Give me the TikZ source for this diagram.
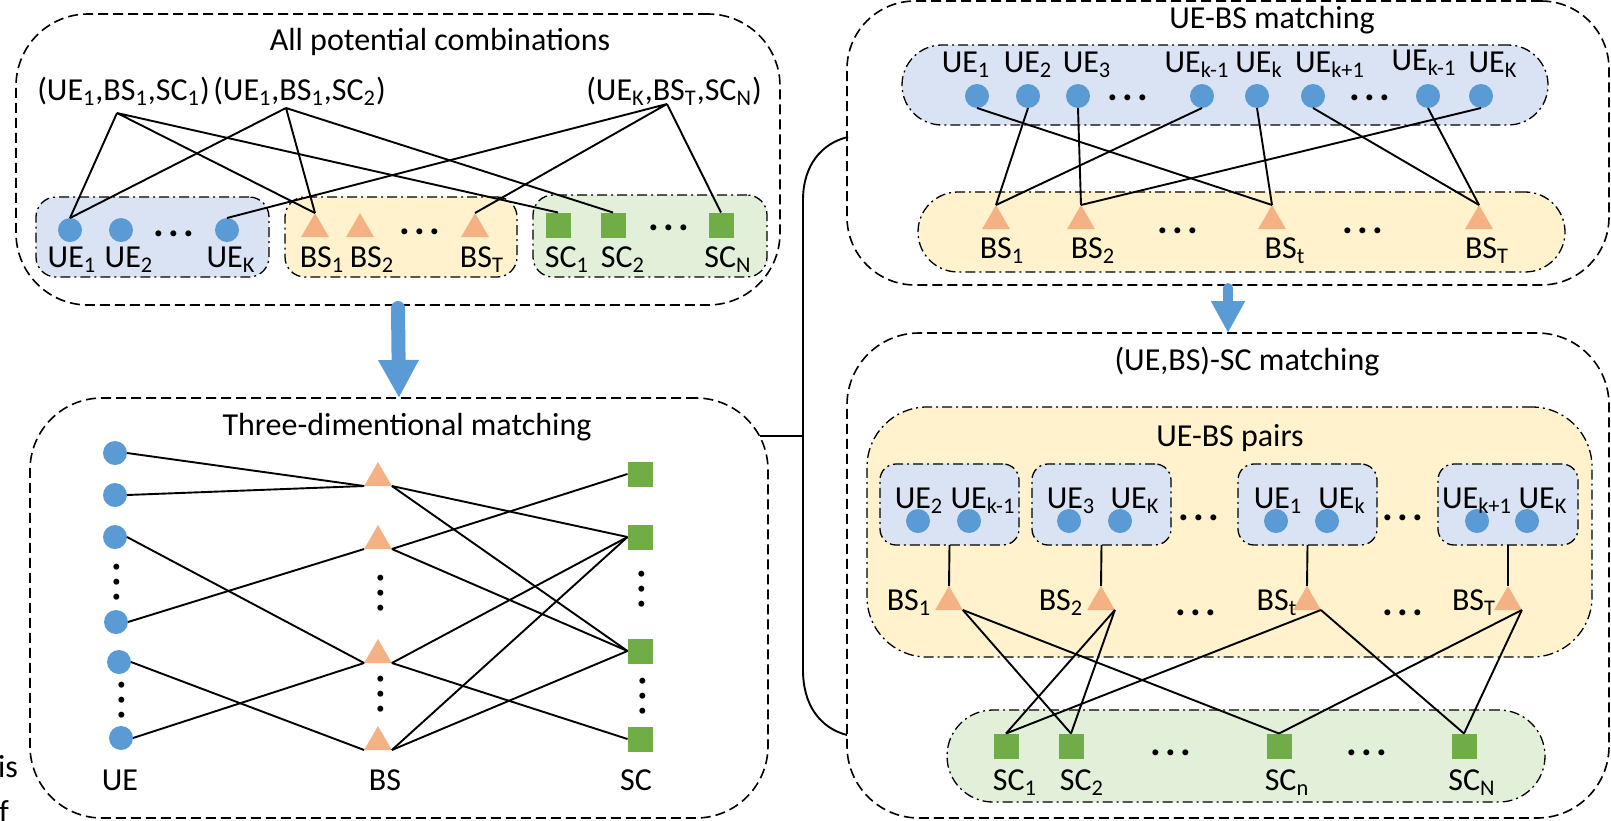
\documentclass[tikz,border=0pt]{standalone}
\usepackage{fontspec}
\setmainfont{Carlito}
\usetikzlibrary{shapes.geometric,arrows.meta}
\definecolor{ueblue}{HTML}{5B9BD5}
\definecolor{bsorange}{HTML}{F4B183}
\definecolor{scgreen}{HTML}{70AD47}
\definecolor{grpblue}{HTML}{DAE3F3}
\definecolor{grpyellow}{HTML}{FFF2CC}
\definecolor{grpgreen}{HTML}{E2F0D9}
\newcommand{\sbx}[1]{\textsubscript{#1}}
\newcommand{\dotsthree}{.\kern2.2pt.\kern2.2pt.}
\tikzset{
 every node/.style={font=\fontsize{16}{19}\selectfont, outer sep=0pt},
 uenode/.style={circle, fill=ueblue, minimum size=12pt, inner sep=0pt},
 bsnode/.style={regular polygon, regular polygon sides=3, fill=bsorange, minimum size=16pt, inner sep=0pt},
 scnode/.style={rectangle, fill=scgreen, minimum size=12.5pt, inner sep=0pt},
 lbl/.style={anchor=base, inner sep=0pt},
 bigbox/.style={draw, line width=0.8pt, dash pattern=on 5pt off 2.5pt, rounded corners=36pt, inner sep=0pt},
 grpbox/.style={draw, line width=0.65pt, dash pattern=on 5pt off 2pt on 1pt off 2pt, inner sep=0pt},
 conn/.style={line width=0.95pt},
 hdots/.style={inner sep=0pt, font=\fontsize{20}{20}\selectfont\bfseries},
 vdots/.style={hdots, rotate=90},
 bigarrow/.style={draw=ueblue, line width=7pt, line cap=round, -{Triangle[width=19pt,length=19pt]}},
 smallarrow/.style={draw=ueblue, line width=5pt, line cap=round, -{Triangle[width=16pt,length=16pt]}},
}
\begin{document}
\begin{tikzpicture}[x=0.5pt,y=-0.5pt]
\useasboundingbox (0,0) rectangle (1611,820);
\clip (0,0) rectangle (1611,820);

% ================= Box 1: All potential combinations =================
\node[bigbox, minimum width=382pt, minimum height=145.5pt] (box1) at (398,159.5) {};
\node[lbl] (title1) at (440,50) {All potential combinations};
\node[grpbox, fill=grpblue, rounded corners=10pt, minimum width=116.5pt, minimum height=40pt] (g1ue) at (152.5,237) {};
\node[grpbox, fill=grpyellow, rounded corners=10pt, minimum width=116pt, minimum height=40pt] (g1bs) at (401,237) {};
\node[grpbox, fill=grpgreen, rounded corners=10pt, minimum width=117pt, minimum height=41pt] (g1sc) at (650,236) {};

\node[lbl] (tri1) at (123.5,100) {(UE\sbx{1},BS\sbx{1},SC\sbx{1})};
\node[lbl] (tri2) at (299.5,100) {(UE\sbx{1},BS\sbx{1},SC\sbx{2})};
\node[lbl] (tri3) at (674,100) {(UE\sbx{K},BS\sbx{T},SC\sbx{N})};
\coordinate (p1) at (117,113);
\coordinate (p2) at (286,108);
\coordinate (p3) at (667,104);

\node[uenode] (au1) at (70,230) {};
\node[uenode] (au2) at (121,230) {};
\node[uenode] (auK) at (227,230) {};
\node[hdots] (aud) at (174,234) {\dotsthree};
\node[bsnode] (ab1) at (315,229) {};
\node[bsnode] (ab2) at (360,229) {};
\node[bsnode] (abT) at (475,229) {};
\node[hdots] (abd) at (420,232) {\dotsthree};
\node[scnode] (as1) at (558,225) {};
\node[scnode] (as2) at (613,225) {};
\node[scnode] (asN) at (721,225) {};
\node[hdots] (asd) at (669,228) {\dotsthree};

\node[lbl] at (72,267) {UE\sbx{1}};
\node[lbl] at (129,267) {UE\sbx{2}};
\node[lbl] at (231,267) {UE\sbx{K}};
\node[lbl] at (322,267) {BS\sbx{1}};
\node[lbl] at (372,267) {BS\sbx{2}};
\node[lbl] at (482,267) {BS\sbx{T}};
\node[lbl] at (567,267) {SC\sbx{1}};
\node[lbl] at (623,267) {SC\sbx{2}};
\node[lbl] at (728,267) {SC\sbx{N}};

\draw[conn] (p1) -- (au1.north) (p1) -- (ab1.corner 1) (p1) -- (as1.north);
\draw[conn] (p2) -- (au1.north) (p2) -- (ab1.corner 1) (p2) -- (as2.north);
\draw[conn] (p3) -- (auK.north) (p3) -- (abT.corner 1) (p3) -- (asN.north);

% ================= Box 2: Three-dimentional matching =================
\node[bigbox, minimum width=369pt, minimum height=210pt] (box2) at (399,608) {};
\node[lbl] (title2) at (407,435) {Three-dimentional matching};

\node[uenode] (bu1) at (115,453) {};
\node[uenode] (bu2) at (115,495) {};
\node[uenode] (bu3) at (115,537) {};
\node[uenode] (bu4) at (116,622) {};
\node[uenode] (bu5) at (119,662) {};
\node[uenode] (bu6) at (121,738) {};
\node[vdots] at (117,582) {\dotsthree};
\node[vdots] at (122,700) {\dotsthree};

\node[bsnode] (bb1) at (378,478) {};
\node[bsnode] (bb2) at (378,541) {};
\node[bsnode] (bb3) at (378,655) {};
\node[bsnode] (bb4) at (378,742) {};
\node[vdots] at (381,593) {\dotsthree};
\node[vdots] at (381,694) {\dotsthree};

\node[scnode] (bs1) at (640,474) {};
\node[scnode] (bs2) at (640,537) {};
\node[scnode] (bs3) at (640,651) {};
\node[scnode] (bs4) at (640,739) {};
\node[vdots] at (642,589) {\dotsthree};
\node[vdots] at (643,696) {\dotsthree};

\node[lbl] at (120,790) {UE};
\node[lbl] at (385,790) {BS};
\node[lbl] at (636,790) {SC};

\draw[conn] (bu1.east) -- (bb1.corner 2);
\draw[conn] (bu2.east) -- (bb1.corner 2);
\draw[conn] (bu3.east) -- (bb3.corner 2);
\draw[conn] (bu4.east) -- (bb2.corner 2);
\draw[conn] (bu5.east) -- (bb4.corner 2);
\draw[conn] (bu6.east) -- (bb3.corner 2);
\draw[conn] (bb1.corner 3) -- (bs2.west);
\draw[conn] (bb1.corner 3) -- (bs3.west);
\draw[conn] (bb2.corner 3) -- (bs1.west);
\draw[conn] (bb2.corner 3) -- (bs3.west);
\draw[conn] (bb3.corner 3) -- (bs2.west);
\draw[conn] (bb3.corner 3) -- (bs4.west);
\draw[conn] (bb4.corner 3) -- (bs2.west);
\draw[conn] (bb4.corner 3) -- (bs3.west);

% ================= Box 3: UE-BS matching =================
\node[bigbox, rounded corners=34pt, minimum width=381pt, minimum height=142pt] (box3) at (1228,143) {};
\node[lbl] (title3) at (1272,28) {UE-BS matching};
\node[grpbox, fill=grpblue, rounded corners=20pt, minimum width=323pt, minimum height=40pt] (g3ue) at (1225,85) {};
\node[grpbox, fill=grpyellow, rounded corners=20pt, minimum width=323.5pt, minimum height=40pt] (g3bs) at (1241.5,232) {};

\node[uenode] (cu1) at (977,96) {};
\node[uenode] (cu2) at (1028,96) {};
\node[uenode] (cu3) at (1078,96) {};
\node[uenode] (cu4) at (1202,96) {};
\node[uenode] (cu5) at (1257,96) {};
\node[uenode] (cu6) at (1313,96) {};
\node[uenode] (cu7) at (1428,96) {};
\node[uenode] (cu8) at (1481,96) {};
\node[hdots] at (1128,98) {\dotsthree};
\node[hdots] at (1370,98) {\dotsthree};
\node[lbl] at (966,72) {UE\sbx{1}};
\node[lbl] at (1028,72) {UE\sbx{2}};
\node[lbl] at (1087,72) {UE\sbx{3}};
\node[lbl] at (1197,72) {UE\sbx{k-1}};
\node[lbl] at (1259,72) {UE\sbx{k}};
\node[lbl] at (1330,72) {UE\sbx{k+1}};
\node[lbl] at (1424,70) {UE\sbx{k-1}};
\node[lbl] at (1493,72) {UE\sbx{K}};

\node[bsnode] (cb1) at (996,221) {};
\node[bsnode] (cb2) at (1081,221) {};
\node[bsnode] (cbt) at (1272,221) {};
\node[bsnode] (cbT) at (1479,221) {};
\node[hdots] at (1178,231) {\dotsthree};
\node[hdots] at (1363,231) {\dotsthree};
\node[lbl] at (1002,258) {BS\sbx{1}};
\node[lbl] at (1093,258) {BS\sbx{2}};
\node[lbl] at (1285,258) {BS\sbx{t}};
\node[lbl] at (1487,258) {BS\sbx{T}};

\draw[conn] (cu1.south) -- (cbt.corner 1);
\draw[conn] (cu2.south) -- (cb1.corner 1);
\draw[conn] (cu3.south) -- (cb2.corner 1);
\draw[conn] (cu4.south) -- (cb1.corner 1);
\draw[conn] (cu5.south) -- (cbt.corner 1);
\draw[conn] (cu6.south) -- (cbT.corner 1);
\draw[conn] (cu7.south) -- (cbT.corner 1);
\draw[conn] (cu8.south) -- (cb2.corner 1);

% ================= Box 4: (UE,BS)-SC matching =================
\node[bigbox, minimum width=381pt, minimum height=242.5pt] (box4) at (1228,575.5) {};
\node[lbl] (title4) at (1247,370) {(UE,BS)-SC matching};
\node[grpbox, fill=grpyellow, rounded corners=30pt, minimum width=362.5pt, minimum height=125pt] (pairs) at (1229.5,532) {};
\node[lbl] (title5) at (1230,446) {UE-BS pairs};

\node[grpbox, fill=grpblue, rounded corners=8pt, minimum width=69.5pt, minimum height=40.5pt] (pb1) at (949.5,504.5) {};
\node[grpbox, fill=grpblue, rounded corners=8pt, minimum width=69.5pt, minimum height=40.5pt] (pb2) at (1101.5,504.5) {};
\node[grpbox, fill=grpblue, rounded corners=8pt, minimum width=69.5pt, minimum height=40.5pt] (pb3) at (1307.5,504.5) {};
\node[grpbox, fill=grpblue, rounded corners=8pt, minimum width=70pt, minimum height=40.5pt] (pb4) at (1508,504.5) {};

\node[uenode] (du1) at (918,521) {};
\node[uenode] (du2) at (969,521) {};
\node[uenode] (du3) at (1069,521) {};
\node[uenode] (du4) at (1120,521) {};
\node[uenode] (du5) at (1276,521) {};
\node[uenode] (du6) at (1327,521) {};
\node[uenode] (du7) at (1477,521) {};
\node[uenode] (du8) at (1527,521) {};
\node[lbl] at (919,508) {UE\sbx{2}};
\node[lbl] at (983,508) {UE\sbx{k-1}};
\node[lbl] at (1071,508) {UE\sbx{3}};
\node[lbl] at (1135,508) {UE\sbx{K}};
\node[lbl] at (1278,508) {UE\sbx{1}};
\node[lbl] at (1342,508) {UE\sbx{k}};
\node[lbl] at (1477,508) {UE\sbx{k+1}};
\node[lbl] at (1543,508) {UE\sbx{K}};
\node[hdots] at (1199,518) {\dotsthree};
\node[hdots] at (1403,518) {\dotsthree};

\node[bsnode] (db1) at (949,602) {};
\node[bsnode] (db2) at (1101,602) {};
\node[bsnode] (dbt) at (1307,602) {};
\node[bsnode] (dbT) at (1508,602) {};
\node[lbl] at (909,610) {BS\sbx{1}};
\node[lbl] at (1061,610) {BS\sbx{2}};
\node[lbl] at (1277,610) {BS\sbx{t}};
\node[lbl] at (1474,610) {BS\sbx{T}};
\node[hdots] at (1196,613) {\dotsthree};
\node[hdots] at (1403,613) {\dotsthree};

\draw[conn] (pb1.south) -- (db1.corner 1);
\draw[conn] (pb2.south) -- (db2.corner 1);
\draw[conn] (pb3.south) -- (dbt.corner 1);
\draw[conn] (pb4.south) -- (dbT.corner 1);

\node[grpbox, fill=grpgreen, rounded corners=23pt, minimum width=299pt, minimum height=46pt] (g4sc) at (1246,756) {};
\node[scnode] (ds1) at (1006,746) {};
\node[scnode] (ds2) at (1071,746) {};
\node[scnode] (dsn) at (1279,746) {};
\node[scnode] (dsN) at (1464,746) {};
\node[hdots] at (1171,753) {\dotsthree};
\node[hdots] at (1367,753) {\dotsthree};
\node[lbl] at (1015,790) {SC\sbx{1}};
\node[lbl] at (1082,790) {SC\sbx{2}};
\node[lbl] at (1287,790) {SC\sbx{n}};
\node[lbl] at (1472,790) {SC\sbx{N}};

\draw[conn] (db1.corner 3) -- (ds2.north);
\draw[conn] (db1.corner 3) -- (dsn.north);
\draw[conn] (db2.corner 3) -- (ds1.north);
\draw[conn] (db2.corner 3) -- (ds2.north);
\draw[conn] (dbt.corner 3) -- (ds1.north);
\draw[conn] (dbt.corner 3) -- (dsN.north);
\draw[conn] (dbT.corner 3) -- (dsn.north);
\draw[conn] (dbT.corner 3) -- (dsN.north);

% ================= Arrows and bracket =================
\draw[bigarrow] ([yshift=-1.5pt]box1.south) -- (box2.north);
\draw[smallarrow] ([yshift=-1.5pt]box3.south) -- (box4.north);

\coordinate (brk) at (803,436);
\coordinate (brtop) at (848,137);
\coordinate (brbot) at (847,735);
\draw[conn] ([xshift=-4pt]brk -| box2.east) -- (brk);
\draw[conn] (brtop) .. controls (822,143) and (803,165) .. (803,200) -- (803,670) .. controls (803,705) and (820,728) .. (brbot);

% cropped text at the left edge
\node[anchor=base west, inner sep=0pt] at (-2,777) {is};
\node[anchor=base west, inner sep=0pt] at (-1,822) {f};
\end{tikzpicture}
\end{document}
